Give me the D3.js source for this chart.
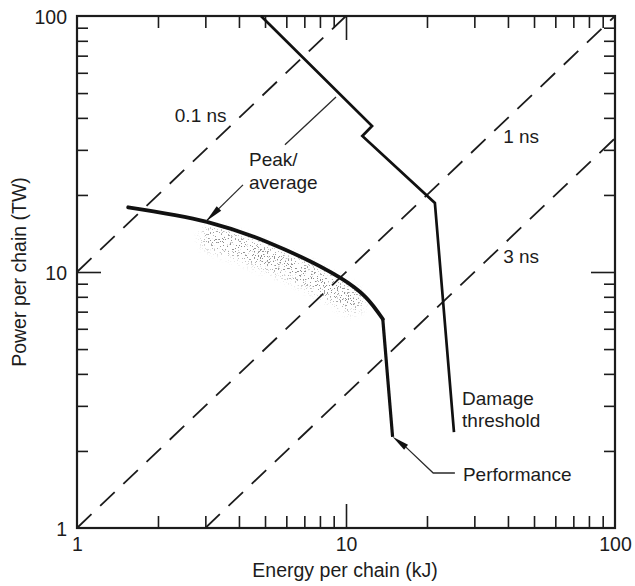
<!DOCTYPE html>
<html>
<head>
<meta charset="utf-8">
<script src="https://cdn.jsdelivr.net/npm/d3@7/dist/d3.min.js"></script>
<style>
  body { margin: 0; background: #fff; }
  text { font-family: "Liberation Sans", Arial, sans-serif; fill: #1c1c1c; }
</style>
</head>
<body>
<svg id="chart" width="635" height="586"></svg>
<script>
// Axis ticks (log decades, kJ and TW)
const majorTicks = [1, 10, 100];
const minorTicks = [2, 3, 4, 5, 6, 7, 8, 9, 20, 30, 40, 50, 60, 70, 80, 90];
const innerMajor = [10];

// Constant pulse-length lines: [energy kJ, power TW]
const tauLines = [
  { label: '0.1 ns', pts: [[1, 10], [10, 100]], labelAt: [2.31, 38.5] },
  { label: '1 ns', pts: [[1, 1], [100, 100]], labelAt: [38.4, 31.9] },
  { label: '3 ns', pts: [[3, 1], [100, 33.3]], labelAt: [38.4, 10.8] },
];

// Performance curve (smooth part, then the drop)
const perfCurve = [[1.55, 17.9], [3.04, 15.7], [5.09, 13.1], [9.5, 9.5], [11.8, 8.0], [13.7, 6.55]];
const perfDrop = [[13.7, 6.55], [14.9, 2.27]];

// Damage threshold
const damage = [[4.83, 100], [12.5, 37.2], [11.5, 34.0], [21.4, 18.6], [25.2, 2.37]];

// Shaded band of measured shots under the curve
const shotBand = [[3.2, 15.0], [5.09, 12.6], [7.0, 10.9], [9.0, 9.4], [10.5, 8.5]];

// Leaders for the labels
const peakArrow = [[4.14, 21.9], [3.02, 15.8]];
const peakLine = [[5.93, 31.4], [9.18, 48.3]];
const perfLeader = [[16.7, 2.07], [21.1, 1.64], [25.4, 1.64]];
const perfArrow = [[14.9, 2.27], [16.7, 2.07]];

const textLabels = [
  { t: 'Peak/', at: [4.36, 25.9] },
  { t: 'average', at: [4.36, 21.1] },
  { t: 'Damage', at: [27.0, 3.02] },
  { t: 'threshold', at: [27.0, 2.48] },
  { t: 'Performance', at: [27.2, 1.53] },
];

const svg = d3.select('#chart');
const plotLeft = 77, plotRight = 615, plotTop = 16, plotBottom = 528;

const x = d3.scaleLog().domain([1, 100]).range([plotLeft, plotRight]);
const y = d3.scaleLog().domain([1, 100]).range([plotBottom, plotTop]);

const defs = svg.append('defs');
const f = defs.append('filter').attr('id', 'speckle')
  .attr('x', '-20%').attr('y', '-50%').attr('width', '140%').attr('height', '200%');
f.append('feTurbulence').attr('type', 'fractalNoise').attr('baseFrequency', 0.7)
  .attr('numOctaves', 2).attr('seed', 7).attr('result', 'noise');
f.append('feColorMatrix').attr('in', 'noise').attr('type', 'matrix')
  .attr('values', '0 0 0 0 0  0 0 0 0 0  0 0 0 0 0  0 0 0 -22 8.4').attr('result', 'dots');
f.append('feGaussianBlur').attr('in', 'SourceGraphic').attr('stdDeviation', 5).attr('result', 'soft');
f.append('feComposite').attr('in', 'dots').attr('in2', 'soft').attr('operator', 'in');

const line = d3.line().x((d) => x(d[0])).y((d) => y(d[1]));
const smooth = d3.line().x((d) => x(d[0])).y((d) => y(d[1])).curve(d3.curveBasis);

// speckled band of shots
svg.append('path')
  .attr('d', smooth(shotBand))
  .attr('transform', 'translate(0,11)')
  .attr('fill', 'none')
  .attr('stroke', '#444')
  .attr('stroke-width', 22)
  .attr('stroke-linecap', 'round')
  .attr('opacity', 0.45)
  .attr('filter', 'url(#speckle)');

// Dashed pulse-length lines
svg.append('g').selectAll('path')
  .data(tauLines)
  .join('path')
    .attr('d', (d) => line(d.pts))
    .attr('fill', 'none')
    .attr('stroke', '#1c1c1c')
    .attr('stroke-width', 1.8)
    .attr('stroke-dasharray', '20,12');

svg.append('g').selectAll('text')
  .data(tauLines)
  .join('text')
    .attr('x', (d) => x(d.labelAt[0]))
    .attr('y', (d) => y(d.labelAt[1]))
    .attr('font-size', 19)
    .text((d) => d.label);

// Axes: inward ticks on all four sides
function ticks(axisFn, scale, values, size, transform) {
  const g = svg.append('g')
    .attr('transform', transform)
    .call(axisFn(scale).tickValues(values).tickSize(-size).tickFormat(''));
  g.select('.domain').remove();
  g.selectAll('line').attr('stroke', '#1c1c1c').attr('stroke-width', 1.6);
}
[[d3.axisBottom, x, `translate(0,${plotBottom})`], [d3.axisTop, x, `translate(0,${plotTop})`]]
  .forEach(([fn, s, tr]) => {
    ticks(fn, s, minorTicks, 12, tr);
    ticks(fn, s, innerMajor, 24, tr);
  });
[[d3.axisLeft, y, `translate(${plotLeft},0)`], [d3.axisRight, y, `translate(${plotRight},0)`]]
  .forEach(([fn, s, tr]) => {
    ticks(fn, s, minorTicks, 11, tr);
    ticks(fn, s, innerMajor, 24, tr);
  });

const xLabels = svg.append('g')
  .attr('transform', `translate(0,${plotBottom})`)
  .call(d3.axisBottom(x).tickValues(majorTicks).tickSize(0).tickPadding(9).tickFormat(d3.format('d')));
xLabels.select('.domain').remove();

const yLabels = svg.append('g')
  .attr('transform', `translate(${plotLeft},0)`)
  .call(d3.axisLeft(y).tickValues(majorTicks).tickSize(0).tickPadding(10).tickFormat(d3.format('d')));
yLabels.select('.domain').remove();
yLabels.selectAll('text').attr('dy', '0.4em');

svg.selectAll('g').attr('font-family', null).attr('font-size', null);
svg.selectAll('.tick text').attr('font-size', 19.5).attr('fill', null);

// Frame
svg.append('rect')
  .attr('x', plotLeft).attr('y', plotTop)
  .attr('width', plotRight - plotLeft).attr('height', plotBottom - plotTop)
  .attr('fill', 'none').attr('stroke', '#1c1c1c').attr('stroke-width', 2.2);

// Damage threshold
svg.append('path')
  .attr('d', line(damage))
  .attr('fill', 'none').attr('stroke', '#111').attr('stroke-width', 2.7)
  .attr('stroke-linejoin', 'miter');

// Performance
svg.append('path')
  .attr('d', d3.line().x((d) => x(d[0])).y((d) => y(d[1])).curve(d3.curveCatmullRom.alpha(0.5))(perfCurve))
  .attr('fill', 'none').attr('stroke', '#111').attr('stroke-width', 3.8)
  .attr('stroke-linecap', 'round');
svg.append('path')
  .attr('d', line(perfDrop))
  .attr('fill', 'none').attr('stroke', '#111').attr('stroke-width', 3.2);

// Leaders
const thin = (pts) => svg.append('path').attr('d', line(pts))
  .attr('fill', 'none').attr('stroke', '#2a2a2a').attr('stroke-width', 1.3);
thin(peakLine);
thin(peakArrow);
thin(perfLeader);

// arrowheads as tapered wedges pointing to the tip
function arrowHead(from, tip, len, half) {
  const x0 = x(from[0]), y0 = y(from[1]), x1 = x(tip[0]), y1 = y(tip[1]);
  const a = Math.atan2(y1 - y0, x1 - x0);
  const bx = x1 - len * Math.cos(a), by = y1 - len * Math.sin(a);
  const px = -Math.sin(a) * half, py = Math.cos(a) * half;
  svg.append('path')
    .attr('d', `M${x1},${y1}L${bx + px},${by + py}L${bx - px},${by - py}Z`)
    .attr('fill', '#111');
}
arrowHead(peakArrow[0], peakArrow[1], 18, 3.2);
arrowHead(perfArrow[1], perfArrow[0], 17, 3.2);

svg.append('g').selectAll('text')
  .data(textLabels)
  .join('text')
    .attr('x', (d) => x(d.at[0]))
    .attr('y', (d) => y(d.at[1]))
    .attr('font-size', 19)
    .text((d) => d.t);

// Axis titles
svg.append('text')
  .attr('x', (plotLeft + plotRight) / 2 - 1)
  .attr('y', 577)
  .attr('text-anchor', 'middle')
  .attr('font-size', 19.5)
  .text('Energy per chain (kJ)');

svg.append('text')
  .attr('transform', `translate(26,${(plotTop + plotBottom) / 2}) rotate(-90)`)
  .attr('text-anchor', 'middle')
  .attr('font-size', 19.5)
  .text('Power per chain (TW)');
</script>
</body>
</html>
